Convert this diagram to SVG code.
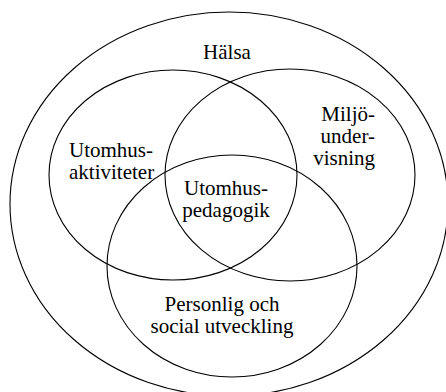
<svg xmlns="http://www.w3.org/2000/svg" width="446" height="392" viewBox="0 0 446 392">
<style>
.c{fill:none;stroke:#000;stroke-width:1.1}
text{font-family:'Liberation Serif','Times New Roman',serif;font-size:21px;fill:#000}
.m{text-anchor:middle}
.e{text-anchor:end}
</style>
<rect width="446" height="392" fill="#fff"/>
<g id="halsa">
<ellipse class="c" cx="229" cy="204" rx="219" ry="192"/>
<text class="m" x="227" y="59">Hälsa</text>
</g>
<g id="utomhusaktiviteter">
<ellipse class="c" cx="173" cy="175" rx="124" ry="105"/>
<text x="69" y="157">Utomhus-</text>
<text x="69" y="179">aktiviteter</text>
</g>
<g id="miljoundervisning">
<ellipse class="c" cx="290" cy="175" rx="125" ry="106"/>
<text class="e" x="375" y="121">Miljö-</text>
<text class="e" x="375" y="143">under-</text>
<text class="e" x="375" y="165">visning</text>
</g>
<g id="personlig">
<ellipse class="c" cx="232" cy="266" rx="125" ry="111"/>
<text class="m" x="222" y="311">Personlig och</text>
<text class="m" x="222" y="333">social utveckling</text>
</g>
<g id="utomhuspedagogik">
<text class="m" x="226" y="195">Utomhus-</text>
<text class="m" x="226" y="217">pedagogik</text>
</g>
<g id="connectors"></g>
</svg>
